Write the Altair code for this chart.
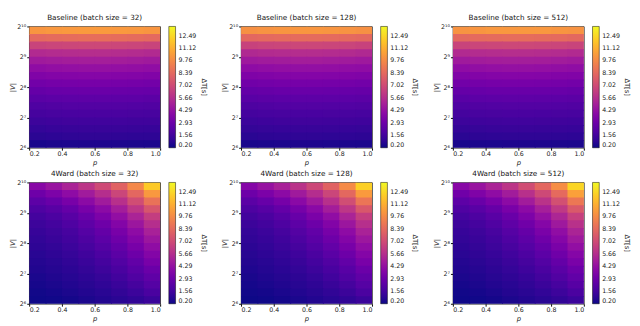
import altair as alt
import pandas as pd

# ---- data (16 rows top->bottom, 8 columns left->right) ----
P_EDGES = [0.2, 0.3, 0.4, 0.5, 0.6, 0.7, 0.8, 0.9, 1.0]
EXP_TOP = 10.0
ROW_STEP = 0.25
X_TICKS = [0.2, 0.4, 0.6, 0.8, 1.0]
Y_TICKS = [6, 7, 8, 9, 10]
CB_TICKS = [0.20, 1.56, 2.93, 4.29, 5.66, 7.02, 8.39, 9.76, 11.12, 12.49]
CB_DOMAIN = [0.2, 13.5]

baseline_32 = [
    [10.2, 10.3, 10.35, 10.4, 10.4, 10.35, 10.3, 10.2],
    [8.4, 8.5, 8.55, 8.6, 8.6, 8.55, 8.5, 8.4],
    [6.7, 6.8, 6.85, 6.9, 6.9, 6.85, 6.8, 6.7],
    [5.5, 5.6, 5.65, 5.7, 5.7, 5.65, 5.6, 5.5],
    [4.75, 4.85, 4.9, 4.95, 4.95, 4.9, 4.85, 4.75],
    [4.15, 4.25, 4.3, 4.33, 4.33, 4.3, 4.25, 4.18],
    [3.6, 3.7, 3.75, 3.78, 3.78, 3.75, 3.7, 3.63],
    [3.12, 3.2, 3.25, 3.28, 3.28, 3.25, 3.2, 3.15],
    [2.7, 2.78, 2.82, 2.85, 2.85, 2.83, 2.8, 2.75],
    [2.3, 2.38, 2.42, 2.45, 2.45, 2.43, 2.4, 2.36],
    [1.95, 2.02, 2.06, 2.08, 2.08, 2.07, 2.05, 2.02],
    [1.65, 1.72, 1.76, 1.78, 1.78, 1.77, 1.75, 1.72],
    [1.38, 1.45, 1.49, 1.51, 1.51, 1.5, 1.48, 1.46],
    [1.13, 1.2, 1.24, 1.26, 1.26, 1.25, 1.23, 1.21],
    [0.86, 0.93, 0.97, 0.99, 0.99, 0.98, 0.96, 0.94],
    [0.45, 0.5, 0.53, 0.55, 0.55, 0.54, 0.52, 0.5],
]
baseline_128 = [
    [10.0, 10.1, 10.2, 10.25, 10.25, 10.2, 10.1, 10.0],
    [8.3, 8.4, 8.45, 8.5, 8.5, 8.45, 8.4, 8.3],
    [6.65, 6.75, 6.8, 6.85, 6.85, 6.8, 6.75, 6.65],
    [5.45, 5.55, 5.6, 5.65, 5.65, 5.6, 5.55, 5.45],
    [4.7, 4.8, 4.85, 4.9, 4.9, 4.85, 4.8, 4.72],
    [4.1, 4.2, 4.25, 4.28, 4.28, 4.25, 4.2, 4.14],
    [3.56, 3.65, 3.7, 3.73, 3.73, 3.7, 3.66, 3.6],
    [3.08, 3.16, 3.21, 3.24, 3.24, 3.22, 3.18, 3.12],
    [2.66, 2.74, 2.79, 2.82, 2.82, 2.8, 2.77, 2.72],
    [2.27, 2.35, 2.39, 2.42, 2.42, 2.41, 2.38, 2.34],
    [1.92, 1.99, 2.03, 2.06, 2.06, 2.05, 2.03, 2.0],
    [1.62, 1.69, 1.73, 1.76, 1.76, 1.75, 1.73, 1.7],
    [1.36, 1.42, 1.46, 1.49, 1.49, 1.48, 1.46, 1.44],
    [1.11, 1.17, 1.21, 1.24, 1.24, 1.23, 1.21, 1.19],
    [0.85, 0.91, 0.95, 0.97, 0.97, 0.96, 0.94, 0.92],
    [0.44, 0.49, 0.52, 0.54, 0.54, 0.53, 0.51, 0.49],
]
baseline_512 = [
    [10.1, 10.2, 10.3, 10.3, 10.3, 10.3, 10.2, 10.1],
    [8.35, 8.45, 8.5, 8.55, 8.55, 8.5, 8.45, 8.35],
    [6.7, 6.8, 6.85, 6.9, 6.9, 6.85, 6.8, 6.7],
    [5.5, 5.6, 5.65, 5.7, 5.7, 5.65, 5.6, 5.5],
    [4.75, 4.85, 4.9, 4.93, 4.93, 4.9, 4.85, 4.76],
    [4.15, 4.24, 4.29, 4.32, 4.32, 4.29, 4.24, 4.17],
    [3.6, 3.69, 3.74, 3.77, 3.77, 3.74, 3.69, 3.62],
    [3.1, 3.19, 3.24, 3.27, 3.27, 3.24, 3.2, 3.14],
    [2.68, 2.77, 2.82, 2.84, 2.84, 2.82, 2.79, 2.74],
    [2.29, 2.37, 2.41, 2.44, 2.44, 2.42, 2.39, 2.35],
    [1.93, 2.01, 2.05, 2.07, 2.07, 2.06, 2.04, 2.01],
    [1.63, 1.71, 1.75, 1.77, 1.77, 1.76, 1.74, 1.71],
    [1.37, 1.44, 1.48, 1.5, 1.5, 1.49, 1.47, 1.45],
    [1.12, 1.19, 1.23, 1.25, 1.25, 1.24, 1.22, 1.2],
    [0.85, 0.92, 0.96, 0.98, 0.98, 0.97, 0.95, 0.93],
    [0.45, 0.5, 0.53, 0.55, 0.55, 0.54, 0.52, 0.5],
]
fourward_32 = [
    [3.9, 4.5, 5.2, 6.0, 7.0, 8.1, 9.7, 12.0],
    [3.0, 3.5, 4.1, 4.8, 5.7, 6.8, 8.3, 10.3],
    [2.4, 2.8, 3.3, 4.0, 4.8, 5.8, 7.1, 8.8],
    [1.95, 2.25, 2.7, 3.3, 4.0, 4.9, 6.1, 7.5],
    [1.6, 1.85, 2.25, 2.8, 3.45, 4.25, 5.2, 6.4],
    [1.38, 1.6, 1.95, 2.45, 3.0, 3.7, 4.6, 5.7],
    [1.2, 1.4, 1.7, 2.15, 2.65, 3.3, 4.1, 5.1],
    [1.07, 1.25, 1.52, 1.92, 2.38, 2.98, 3.7, 4.6],
    [0.94, 1.1, 1.35, 1.7, 2.12, 2.65, 3.3, 4.15],
    [0.82, 0.98, 1.18, 1.48, 1.85, 2.35, 2.95, 3.7],
    [0.7, 0.85, 1.03, 1.3, 1.62, 2.05, 2.6, 3.3],
    [0.6, 0.72, 0.9, 1.12, 1.4, 1.78, 2.27, 2.85],
    [0.49, 0.6, 0.76, 0.95, 1.18, 1.54, 1.98, 2.5],
    [0.4, 0.5, 0.63, 0.8, 1.0, 1.28, 1.66, 2.15],
    [0.31, 0.39, 0.5, 0.65, 0.82, 1.05, 1.35, 1.78],
    [0.24, 0.28, 0.37, 0.5, 0.64, 0.83, 1.03, 1.32],
]
fourward_128 = [
    [3.8, 4.4, 5.1, 5.9, 6.9, 8.1, 9.8, 12.2],
    [2.95, 3.45, 4.05, 4.75, 5.65, 6.8, 8.35, 10.4],
    [2.35, 2.75, 3.25, 3.95, 4.75, 5.8, 7.15, 8.9],
    [1.9, 2.2, 2.65, 3.25, 3.95, 4.9, 6.1, 7.6],
    [1.56, 1.82, 2.2, 2.75, 3.4, 4.2, 5.2, 6.45],
    [1.34, 1.56, 1.9, 2.4, 2.95, 3.68, 4.6, 5.75],
    [1.16, 1.36, 1.66, 2.1, 2.6, 3.27, 4.1, 5.15],
    [1.03, 1.21, 1.48, 1.88, 2.34, 2.95, 3.7, 4.65],
    [0.9, 1.07, 1.31, 1.66, 2.08, 2.62, 3.3, 4.2],
    [0.79, 0.95, 1.15, 1.45, 1.82, 2.32, 2.95, 3.75],
    [0.67, 0.82, 1.0, 1.27, 1.59, 2.02, 2.6, 3.33],
    [0.57, 0.7, 0.87, 1.09, 1.37, 1.76, 2.26, 2.88],
    [0.47, 0.58, 0.73, 0.92, 1.16, 1.51, 1.97, 2.52],
    [0.38, 0.48, 0.61, 0.78, 0.98, 1.26, 1.65, 2.17],
    [0.3, 0.37, 0.48, 0.63, 0.8, 1.03, 1.34, 1.8],
    [0.22, 0.27, 0.36, 0.48, 0.62, 0.81, 1.02, 1.33],
]
fourward_512 = [
    [3.9, 4.5, 5.2, 6.0, 7.1, 8.3, 9.9, 12.4],
    [3.05, 3.55, 4.15, 4.85, 5.8, 6.95, 8.45, 10.6],
    [2.42, 2.82, 3.35, 4.05, 4.85, 5.9, 7.25, 9.0],
    [1.96, 2.28, 2.72, 3.33, 4.05, 5.0, 6.2, 7.7],
    [1.62, 1.88, 2.27, 2.83, 3.5, 4.32, 5.3, 6.55],
    [1.39, 1.62, 1.97, 2.47, 3.05, 3.78, 4.7, 5.85],
    [1.21, 1.41, 1.72, 2.17, 2.7, 3.36, 4.18, 5.22],
    [1.08, 1.26, 1.54, 1.94, 2.42, 3.03, 3.78, 4.72],
    [0.95, 1.11, 1.37, 1.72, 2.15, 2.7, 3.38, 4.25],
    [0.83, 0.99, 1.2, 1.5, 1.88, 2.39, 3.02, 3.8],
    [0.71, 0.86, 1.05, 1.32, 1.65, 2.09, 2.66, 3.38],
    [0.6, 0.73, 0.91, 1.14, 1.43, 1.82, 2.32, 2.93],
    [0.5, 0.61, 0.77, 0.97, 1.21, 1.57, 2.02, 2.57],
    [0.41, 0.51, 0.64, 0.82, 1.02, 1.31, 1.7, 2.21],
    [0.31, 0.39, 0.51, 0.66, 0.83, 1.07, 1.38, 1.83],
    [0.24, 0.28, 0.37, 0.5, 0.64, 0.84, 1.05, 1.35],
]

PANELS = [
    ("Baseline (batch size = 32)", baseline_32),
    ("Baseline (batch size = 128)", baseline_128),
    ("Baseline (batch size = 512)", baseline_512),
    ("4Ward (batch size = 32)", fourward_32),
    ("4Ward (batch size = 128)", fourward_128),
    ("4Ward (batch size = 512)", fourward_512),
]

W, H = 136, 126
FONT = "DejaVu Sans"
OVER_X, OVER_Y = 0.006, 0.03   # small overlap of neighbouring cells to hide seams


def panel(title, grid):
    rows = []
    for i, row in enumerate(grid):
        e1 = EXP_TOP - ROW_STEP * i
        e0 = e1 - ROW_STEP - OVER_Y
        for j, v in enumerate(row):
            rows.append({"p0": P_EDGES[j], "p1": P_EDGES[j + 1] + OVER_X,
                         "e0": e0, "e1": e1, "t": v})
    df = pd.DataFrame(rows)
    scale = alt.Scale(scheme="plasma", domain=CB_DOMAIN)
    return alt.Chart(df).mark_rect(clip=True).encode(
        x=alt.X("p0:Q", scale=alt.Scale(domain=[0.2, 1.0], nice=False, zero=False),
                axis=alt.Axis(values=X_TICKS, format=".1f", title="p",
                              titleFontStyle="italic")),
        x2="p1",
        y=alt.Y("e0:Q", scale=alt.Scale(domain=[6, 10], nice=False, zero=False),
                axis=alt.Axis(values=Y_TICKS, title="|V|", titleFontStyle="italic",
                              labelExpr="'2' + ['⁶','⁷','⁸','⁹','¹⁰'][datum.value - 6]")),
        y2="e1",
        color=alt.Color("t:Q", scale=scale,
                        legend=alt.Legend(type="gradient", title="ΔT[s]", values=CB_TICKS,
                                          format=".2f", direction="vertical",
                                          gradientLength=H, gradientThickness=7,
                                          gradientStrokeColor="black", gradientStrokeWidth=0.5,
                                          labelFontSize=6.5, labelOffset=3,
                                          titleOrient="right",
                                          titleFontSize=7, titleFontWeight="normal",
                                          titleAnchor="middle", titlePadding=4,
                                          offset=9)),
    ).properties(width=W, height=H,
                 title=alt.TitleParams(title, fontSize=7.5, fontWeight="normal",
                                       font=FONT, offset=2))


charts = [panel(t, g) for t, g in PANELS]
row1 = alt.hconcat(*charts[:3], spacing=12).resolve_scale(color="independent")
row2 = alt.hconcat(*charts[3:], spacing=12).resolve_scale(color="independent")
chart = alt.vconcat(row1, row2, spacing=4).resolve_scale(
    color="independent"
).properties(padding=0).configure_view(
    stroke="black", strokeWidth=0.8
).configure_axis(
    labelFont=FONT, titleFont=FONT, labelFontSize=6.5, titleFontSize=7,
    labelColor="#222", titleColor="#222", domainColor="black", tickColor="black",
    tickSize=2.5, labelPadding=1, titlePadding=1, grid=False, domain=False,
    titleFontWeight="normal",
).configure_title(fontWeight="normal", color="#111").configure_legend(
    labelFont=FONT, titleFont=FONT, labelColor="#222", titleColor="#222")

chart.save("out.html", embed_options={"renderer": "svg", "actions": False})
